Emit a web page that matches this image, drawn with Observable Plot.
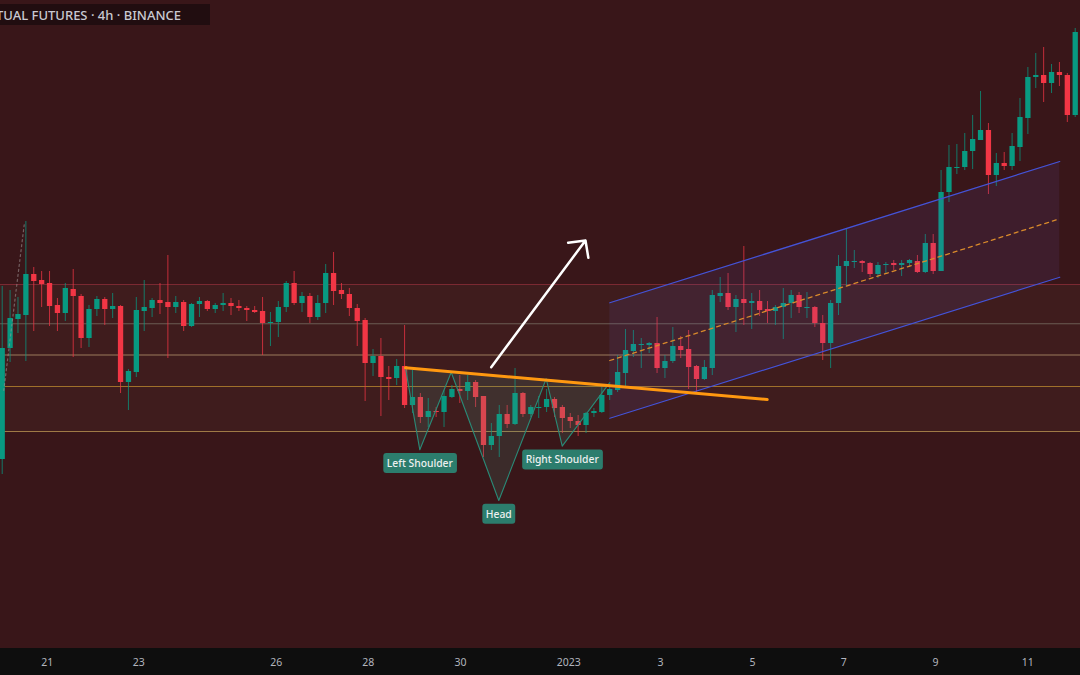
<!DOCTYPE html>
<html><head><meta charset="utf-8">
<script src="https://cdn.jsdelivr.net/npm/d3@7"></script>
<script src="https://cdn.jsdelivr.net/npm/@observablehq/plot@0.6"></script>
<style>
html,body{margin:0;padding:0;background:#391619;overflow:hidden}
#wrap{position:relative;width:1080px;height:675px;background:linear-gradient(to bottom,#391619 0,#391619 648px,#0e0e0e 648px,#0e0e0e 675px)}
#wrap svg{position:absolute;left:0;top:0}
#title{position:absolute;z-index:2;top:4px;left:0;width:210px;height:21px;background:rgba(18,8,10,0.6);display:flex;justify-content:flex-end;align-items:center;overflow:hidden;white-space:nowrap;font:500 13px "Noto Sans",sans-serif;color:#c9c9d2}
#title span{padding-right:29px;flex-shrink:0}
</style></head><body>
<div id="wrap"><div id="title"><span>Bitcoin / TetherUS PERPETUAL FUTURES · 4h · BINANCE</span></div></div>
<script>
// 4h candles, price in chart units
const opens  = [241,352,381,385,426,420,417,395,387,411,404,362,391,401,391,394,318,328,389,392,400,398,393,398,374,396,399,391,395,397,394,392,390,389,377,378,393,417,397,404,383,397,427,410,406,392,380,337,344,323,322,334,295,303,283,289,288,303,311,309,318,304,255,264,286,276,307,286,292,293,301,293,283,279,275,287,288,305,310,327,349,355,355,357,332,339,354,351,334,321,332,404,407,393,401,397,399,391,389,393,397,405,392,393,377,357,397,434,438,439,437,426,435,437,435,437,439,428,457,429,508,532,533,549,560,570,525,537,534,553,582,623,625,617,628,625,585];
const highs  = [414,410,403,479,433,429,429,402,417,431,406,395,404,403,407,395,331,403,420,402,417,445,404,400,397,403,400,397,407,402,400,394,394,403,388,399,419,429,408,407,405,436,448,417,412,396,382,351,362,334,341,375,330,307,302,293,310,315,325,325,320,304,277,295,295,332,308,295,304,311,303,295,287,285,288,292,313,318,345,371,370,362,358,383,345,373,364,370,335,340,410,423,427,405,454,407,410,399,395,412,410,408,408,394,385,400,445,472,450,440,438,438,438,440,440,441,445,466,466,530,555,556,567,585,609,577,547,548,567,602,633,647,653,636,638,627,672];
const lows   = [226,338,367,339,369,393,374,369,379,343,352,353,384,375,382,307,290,323,369,383,386,342,387,369,373,383,389,387,389,385,389,379,387,345,354,363,388,395,388,377,380,387,395,401,384,354,299,324,284,300,315,292,287,277,273,283,273,302,297,300,293,243,250,243,272,275,283,283,282,288,283,267,272,264,267,283,287,300,308,312,343,332,347,327,322,337,342,311,308,320,325,398,390,368,375,371,384,377,375,361,382,387,382,373,340,332,385,414,432,428,423,422,427,430,424,433,427,427,426,429,498,526,530,531,560,506,514,530,530,539,566,612,598,607,614,578,583];
const closes = [352,382,386,426,419,416,394,387,412,404,362,391,401,391,394,318,329,390,393,400,397,393,398,374,396,399,391,395,397,394,392,390,388,377,378,393,417,397,404,383,397,427,409,406,392,379,337,344,323,321,334,295,303,283,289,288,304,311,309,318,303,255,264,286,276,307,286,293,293,301,292,282,279,275,287,289,305,311,328,350,356,356,357,332,339,354,350,333,321,333,405,407,393,401,397,399,390,389,393,397,405,393,393,377,357,397,434,439,439,437,426,435,436,435,437,440,428,457,429,508,533,533,549,561,570,525,537,534,554,583,623,625,617,628,625,585,668];

// horizontal levels and shaded zone
const levelValues = [416, 376.7, 345.5, 314, 269];
const levelColors = ["#7b2932", "#6b5b53", "#9b7a5c", "#a0702a", "#9f7a46"];
const zoneTop = 416, zoneBottom = 269;

// time-axis labels (bar index positions)
const tickIdx    = [5.7, 17.31, 34.73, 46.39, 58.09, 71.81, 83.43, 95.09, 106.67, 118.29, 129.99];
const tickLabels = ["21", "23", "26", "28", "30", "2023", "3", "5", "7", "9", "11"];

// inverse head & shoulders pattern vertices
const hsIdx = [51.11, 52.93, 56.91, 62.94, 68.95, 70.98, 76.88];
const hsVal = [332.7, 250.7, 328.3, 200, 321.7, 254.3, 316.7];
const hsLabelAt = [1, 3, 5];
const hsLabels = ["Left Shoulder", "Head", "Right Shoulder"];

// neckline
const neckIdx = [51.11, 96.96];
const neckVal = [332.7, 301];

// rising parallel channel
const chanIdx = [77.01, 134.04];
const chanUpper = [397.7, 539];
const chanLower = [282.3, 423.3];
const chanMid = [340, 481.7];

// breakout arrow
const arrowFrom = [61.98, 333.3];
const arrowTo = [73.93, 460];

// earlier dotted projection at left edge
const dotIdx = [0.2, 2.83];
const dotVal = [310, 478.3];

const n = opens.length;
const candles = d3.range(n).map(i => ({i, o: opens[i], h: highs[i], l: lows[i], c: closes[i]}));
const UP = "#089981", DOWN = "#f23645";
const col = d => d.c >= d.o ? UP : DOWN;
const xDom = [-0.2155, 136.67];
const labelMap = new Map(tickIdx.map((d, k) => [d, tickLabels[k]]));

const hsPts = hsIdx.map((x, k) => ({x, y: hsVal[k]}));
const pair = (xs, ys) => xs.map((x, k) => ({x, y: ys[k]}));
const chanArea = chanIdx.map((x, k) => ({x, lo: chanLower[k], hi: chanUpper[k]}));

const chart = Plot.plot({
  width: 1080, height: 675,
  marginTop: 0, marginLeft: 0, marginRight: 0, marginBottom: 27,
  x: {domain: xDom, axis: null},
  y: {domain: [52, 700], axis: null},
  color: {type: "identity"},
  style: {background: "transparent", color: "#b2b5be", fontFamily: "'Noto Sans', sans-serif"},
  marks: [
    Plot.rect([{a: xDom[0], b: xDom[1], t: zoneTop, u: zoneBottom}], {x1: "a", x2: "b", y1: "u", y2: "t", fill: "#3f1c1d"}),
    Plot.ruleY(levelValues.map((v, k) => ({v, c: levelColors[k]})), {y: "v", stroke: "c", strokeWidth: 1.1}),
    Plot.ruleX(candles, {x: "i", y1: "l", y2: "h", stroke: col, strokeWidth: 1, strokeOpacity: 0.75}),
    Plot.ruleX(candles, {x: "i", y1: "o", y2: "c", stroke: col, strokeWidth: 5.3}),
    Plot.line(pair(dotIdx, dotVal), {x: "x", y: "y", stroke: "#9a8f90", strokeOpacity: 0.6, strokeWidth: 1.2, strokeDasharray: "2,3"}),
    Plot.areaY(chanArea, {x: "x", y1: "lo", y2: "hi", fill: "#6f62d8", fillOpacity: 0.1}),
    Plot.line(pair(chanIdx, chanUpper), {x: "x", y: "y", stroke: "#4453d8", strokeWidth: 1.2}),
    Plot.line(pair(chanIdx, chanLower), {x: "x", y: "y", stroke: "#4453d8", strokeWidth: 1.2}),
    Plot.line(pair(chanIdx, chanMid), {x: "x", y: "y", stroke: "#d98a2b", strokeWidth: 1.3, strokeDasharray: "4,4"}),
    Plot.line(hsPts, {x: "x", y: "y", stroke: "none", fill: "#4a9a86", fillOpacity: 0.16}),
    Plot.line(hsPts, {x: "x", y: "y", stroke: "#2a8a77", strokeWidth: 1.1}),
    Plot.line(pair(neckIdx, neckVal), {x: "x", y: "y", stroke: "#ff9810", strokeWidth: 3}),
    Plot.arrow([{x1: arrowFrom[0], y1: arrowFrom[1], x2: arrowTo[0], y2: arrowTo[1]}], {x1: "x1", y1: "y1", x2: "x2", y2: "y2", stroke: "#ffffff", strokeWidth: 2.5, headAngle: 92, headLength: 10.5}),
    Plot.text(hsLabelAt.map((k, j) => ({x: hsIdx[k], y: hsVal[k], t: hsLabels[j]})), {x: "x", y: "y", text: "t", dy: 14, fill: "#eef0f0", fontSize: 10.3, fontWeight: 500}),
    Plot.axisX(tickIdx, {tickFormat: d => labelMap.get(d), tickSize: 0, tickPadding: 10, fontSize: 10.5})
  ]
});

document.getElementById("wrap").appendChild(chart);
chart.querySelectorAll("text").forEach(t => {
  if (!hsLabels.includes(t.textContent)) return;
  const b = t.getBBox();
  const r = document.createElementNS("http://www.w3.org/2000/svg", "rect");
  r.setAttribute("x", b.x - 3.5); r.setAttribute("y", b.y - 3);
  r.setAttribute("width", b.width + 7); r.setAttribute("height", b.height + 6);
  r.setAttribute("rx", 3); r.setAttribute("fill", "#2c7d6d");
  if (t.getAttribute("transform")) r.setAttribute("transform", t.getAttribute("transform"));
  t.parentNode.insertBefore(r, t);
});
</script>
</body></html>
